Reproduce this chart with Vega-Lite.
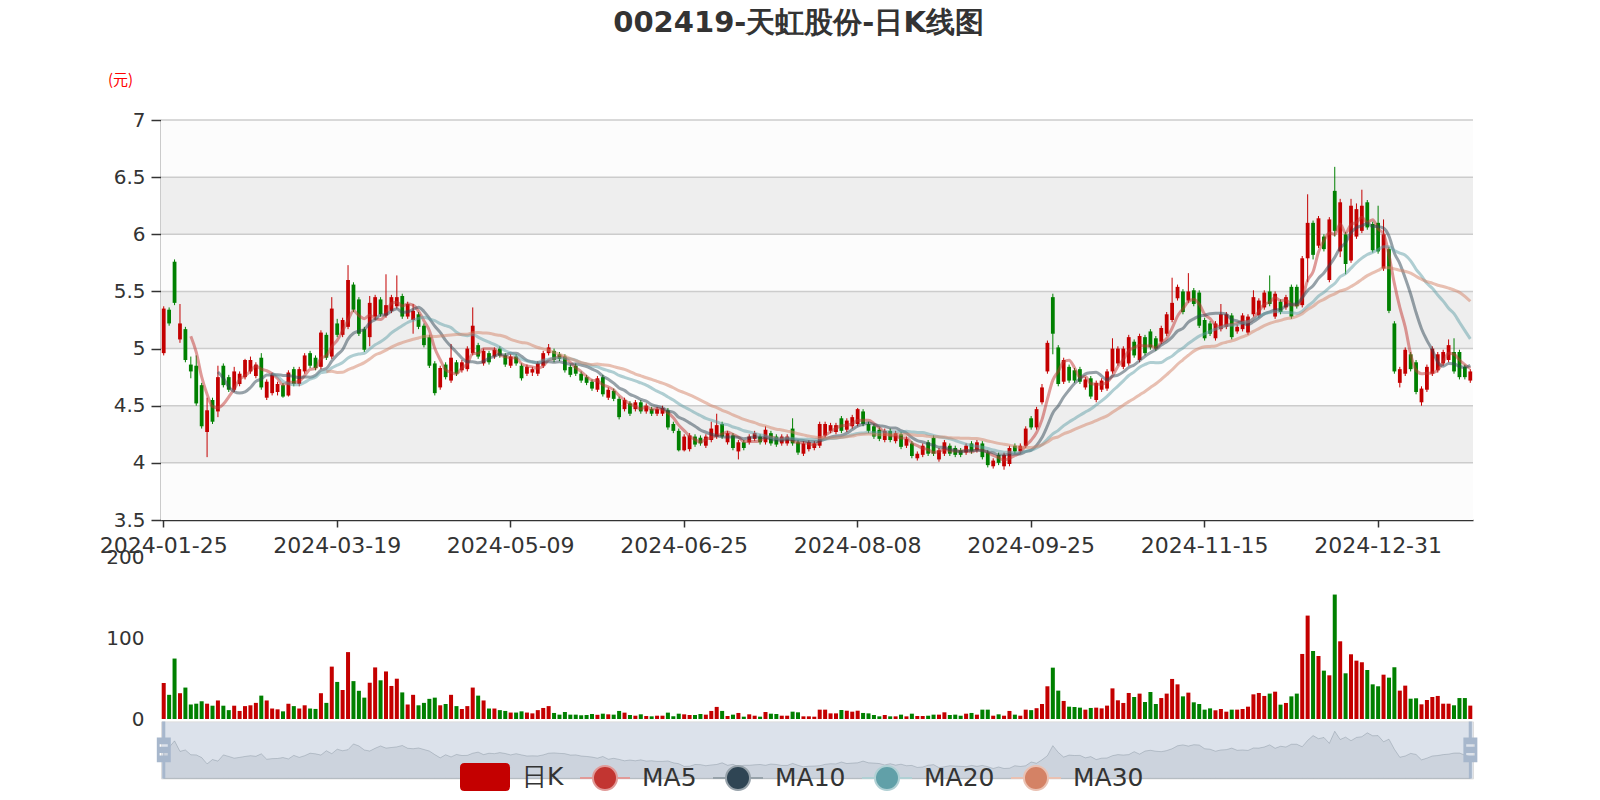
{
"$schema":"https://vega.github.io/schema/vega-lite/v6.json",
"background":"#ffffff",
"padding":{"left":99,"top":9,"right":10,"bottom":0},
"autosize":{"type":"pad"},
"title":{"text":"002419-天虹股份-日K线图","anchor":"middle","font":"DejaVu Sans","fontSize":29,"fontWeight":"bold","color":"#333333","offset":34,"dx":10},
"config":{"view":{"stroke":null},"font":"DejaVu Sans","axis":{"labelFont":"DejaVu Sans"},"legend":{"labelFont":"DejaVu Sans"}},
"datasets":{
"bands":[{"lo":3.5,"hi":4,"shade":"w"},{"lo":4,"hi":4.5,"shade":"g"},{"lo":4.5,"hi":5,"shade":"w"},{"lo":5,"hi":5.5,"shade":"g"},{"lo":5.5,"hi":6,"shade":"w"},{"lo":6,"hi":6.5,"shade":"g"},{"lo":6.5,"hi":7,"shade":"w"}],
"k":[
{"date":"2024-01-25","open":4.96,"close":5.35,"high":5.37,"low":4.94,"volume":44.7},
{"date":"2024-01-26","open":5.34,"close":5.22,"high":5.36,"low":5.20,"volume":30},
{"date":"2024-01-29","open":5.76,"close":5.40,"high":5.78,"low":5.38,"volume":75},
{"date":"2024-01-30","open":5.08,"close":5.22,"high":5.39,"low":5.05,"volume":32},
{"date":"2024-01-31","open":5.17,"close":4.90,"high":5.19,"low":4.88,"volume":39},
{"date":"2024-02-01","open":4.86,"close":4.80,"high":4.93,"low":4.74,"volume":18},
{"date":"2024-02-02","open":4.85,"close":4.52,"high":4.94,"low":4.50,"volume":19},
{"date":"2024-02-05","open":4.68,"close":4.32,"high":4.70,"low":4.30,"volume":22},
{"date":"2024-02-06","open":4.27,"close":4.46,"high":4.57,"low":4.05,"volume":19},
{"date":"2024-02-07","open":4.55,"close":4.36,"high":4.57,"low":4.34,"volume":16.5},
{"date":"2024-02-08","open":4.45,"close":4.75,"high":4.85,"low":4.40,"volume":23},
{"date":"2024-02-19","open":4.85,"close":4.68,"high":4.87,"low":4.66,"volume":16.5},
{"date":"2024-02-20","open":4.75,"close":4.64,"high":4.77,"low":4.62,"volume":11},
{"date":"2024-02-21","open":4.64,"close":4.80,"high":4.84,"low":4.62,"volume":16.5},
{"date":"2024-02-22","open":4.69,"close":4.78,"high":4.80,"low":4.67,"volume":10},
{"date":"2024-02-23","open":4.75,"close":4.90,"high":4.91,"low":4.73,"volume":16},
{"date":"2024-02-26","open":4.80,"close":4.90,"high":4.93,"low":4.78,"volume":17},
{"date":"2024-02-27","open":4.76,"close":4.86,"high":4.88,"low":4.74,"volume":20},
{"date":"2024-02-28","open":4.92,"close":4.66,"high":4.96,"low":4.64,"volume":29},
{"date":"2024-02-29","open":4.57,"close":4.71,"high":4.73,"low":4.55,"volume":23},
{"date":"2024-03-01","open":4.61,"close":4.77,"high":4.79,"low":4.59,"volume":13},
{"date":"2024-03-04","open":4.62,"close":4.69,"high":4.71,"low":4.59,"volume":12},
{"date":"2024-03-05","open":4.68,"close":4.58,"high":4.70,"low":4.57,"volume":9.5},
{"date":"2024-03-06","open":4.59,"close":4.79,"high":4.81,"low":4.58,"volume":19},
{"date":"2024-03-07","open":4.82,"close":4.69,"high":4.84,"low":4.67,"volume":16},
{"date":"2024-03-08","open":4.69,"close":4.82,"high":4.84,"low":4.67,"volume":13},
{"date":"2024-03-11","open":4.80,"close":4.94,"high":4.96,"low":4.78,"volume":17},
{"date":"2024-03-12","open":4.96,"close":4.85,"high":4.98,"low":4.83,"volume":13},
{"date":"2024-03-13","open":4.92,"close":4.83,"high":4.94,"low":4.81,"volume":12.5},
{"date":"2024-03-14","open":4.84,"close":5.14,"high":5.16,"low":4.82,"volume":32},
{"date":"2024-03-15","open":5.12,"close":4.92,"high":5.14,"low":4.90,"volume":20},
{"date":"2024-03-18","open":4.93,"close":5.35,"high":5.45,"low":4.91,"volume":65},
{"date":"2024-03-19","open":5.22,"close":5.12,"high":5.26,"low":5.10,"volume":46},
{"date":"2024-03-20","open":5.12,"close":5.25,"high":5.27,"low":5.10,"volume":36},
{"date":"2024-03-21","open":5.19,"close":5.60,"high":5.73,"low":5.17,"volume":83},
{"date":"2024-03-22","open":5.56,"close":5.34,"high":5.58,"low":5.32,"volume":47},
{"date":"2024-03-25","open":5.43,"close":5.13,"high":5.45,"low":5.11,"volume":35},
{"date":"2024-03-26","open":5.17,"close":4.99,"high":5.19,"low":4.97,"volume":26.5},
{"date":"2024-03-27","open":5.10,"close":5.40,"high":5.46,"low":5.02,"volume":45},
{"date":"2024-03-28","open":5.28,"close":5.45,"high":5.47,"low":5.25,"volume":64},
{"date":"2024-03-29","open":5.43,"close":5.30,"high":5.45,"low":5.28,"volume":48},
{"date":"2024-04-01","open":5.29,"close":5.38,"high":5.65,"low":5.27,"volume":59},
{"date":"2024-04-02","open":5.33,"close":5.45,"high":5.47,"low":5.31,"volume":41},
{"date":"2024-04-03","open":5.37,"close":5.45,"high":5.64,"low":5.35,"volume":50},
{"date":"2024-04-08","open":5.46,"close":5.28,"high":5.48,"low":5.26,"volume":33},
{"date":"2024-04-09","open":5.28,"close":5.39,"high":5.41,"low":5.26,"volume":18},
{"date":"2024-04-10","open":5.25,"close":5.33,"high":5.39,"low":5.13,"volume":30},
{"date":"2024-04-11","open":5.30,"close":5.19,"high":5.32,"low":5.17,"volume":17},
{"date":"2024-04-12","open":5.20,"close":5.03,"high":5.22,"low":5.01,"volume":20},
{"date":"2024-04-15","open":5.10,"close":4.85,"high":5.12,"low":4.83,"volume":25},
{"date":"2024-04-16","open":4.87,"close":4.61,"high":4.89,"low":4.59,"volume":26.5},
{"date":"2024-04-17","open":4.66,"close":4.83,"high":4.85,"low":4.64,"volume":17},
{"date":"2024-04-18","open":4.86,"close":4.75,"high":4.88,"low":4.73,"volume":18.6},
{"date":"2024-04-19","open":4.72,"close":4.92,"high":5.04,"low":4.70,"volume":30},
{"date":"2024-04-22","open":4.88,"close":4.78,"high":4.90,"low":4.76,"volume":16},
{"date":"2024-04-23","open":4.81,"close":4.88,"high":4.90,"low":4.79,"volume":12.4},
{"date":"2024-04-24","open":4.82,"close":5.00,"high":5.02,"low":4.80,"volume":16},
{"date":"2024-04-25","open":4.96,"close":5.20,"high":5.36,"low":4.94,"volume":39},
{"date":"2024-04-26","open":5.03,"close":4.93,"high":5.05,"low":4.91,"volume":29},
{"date":"2024-04-29","open":4.87,"close":4.98,"high":5.00,"low":4.85,"volume":23},
{"date":"2024-04-30","open":4.96,"close":4.88,"high":4.98,"low":4.86,"volume":13},
{"date":"2024-05-06","open":4.93,"close":4.99,"high":5.01,"low":4.91,"volume":13},
{"date":"2024-05-07","open":5.00,"close":4.94,"high":5.02,"low":4.92,"volume":11},
{"date":"2024-05-08","open":4.94,"close":4.86,"high":4.96,"low":4.84,"volume":10},
{"date":"2024-05-09","open":4.85,"close":4.93,"high":4.95,"low":4.83,"volume":8},
{"date":"2024-05-10","open":4.93,"close":4.87,"high":4.95,"low":4.85,"volume":8},
{"date":"2024-05-13","open":4.85,"close":4.74,"high":4.87,"low":4.72,"volume":9.5},
{"date":"2024-05-14","open":4.78,"close":4.84,"high":4.86,"low":4.76,"volume":8},
{"date":"2024-05-15","open":4.79,"close":4.82,"high":4.84,"low":4.76,"volume":7},
{"date":"2024-05-16","open":4.78,"close":4.87,"high":4.89,"low":4.76,"volume":11},
{"date":"2024-05-17","open":4.85,"close":4.96,"high":4.98,"low":4.83,"volume":13.7},
{"date":"2024-05-20","open":4.96,"close":5.01,"high":5.04,"low":4.94,"volume":16},
{"date":"2024-05-21","open":4.98,"close":4.90,"high":5.00,"low":4.88,"volume":7.5},
{"date":"2024-05-22","open":4.95,"close":4.91,"high":4.97,"low":4.89,"volume":5.4},
{"date":"2024-05-23","open":4.93,"close":4.81,"high":4.95,"low":4.79,"volume":8.7},
{"date":"2024-05-24","open":4.84,"close":4.77,"high":4.86,"low":4.75,"volume":5.4},
{"date":"2024-05-27","open":4.85,"close":4.78,"high":4.87,"low":4.76,"volume":5.4},
{"date":"2024-05-28","open":4.78,"close":4.72,"high":4.80,"low":4.70,"volume":4.6},
{"date":"2024-05-29","open":4.75,"close":4.70,"high":4.77,"low":4.68,"volume":5},
{"date":"2024-05-30","open":4.71,"close":4.65,"high":4.73,"low":4.63,"volume":6.2},
{"date":"2024-05-31","open":4.64,"close":4.74,"high":4.76,"low":4.62,"volume":5.2},
{"date":"2024-06-03","open":4.75,"close":4.60,"high":4.77,"low":4.58,"volume":6.6},
{"date":"2024-06-04","open":4.57,"close":4.64,"high":4.66,"low":4.55,"volume":5.8},
{"date":"2024-06-05","open":4.63,"close":4.56,"high":4.65,"low":4.54,"volume":5.4},
{"date":"2024-06-06","open":4.56,"close":4.40,"high":4.58,"low":4.38,"volume":10},
{"date":"2024-06-07","open":4.47,"close":4.55,"high":4.57,"low":4.45,"volume":7.9},
{"date":"2024-06-11","open":4.52,"close":4.43,"high":4.54,"low":4.41,"volume":5},
{"date":"2024-06-12","open":4.47,"close":4.53,"high":4.55,"low":4.45,"volume":4.1},
{"date":"2024-06-13","open":4.53,"close":4.45,"high":4.55,"low":4.43,"volume":5.8},
{"date":"2024-06-14","open":4.45,"close":4.50,"high":4.52,"low":4.43,"volume":3.7},
{"date":"2024-06-17","open":4.47,"close":4.43,"high":4.49,"low":4.41,"volume":3.3},
{"date":"2024-06-18","open":4.43,"close":4.47,"high":4.49,"low":4.41,"volume":4.1},
{"date":"2024-06-19","open":4.43,"close":4.48,"high":4.50,"low":4.41,"volume":4.1},
{"date":"2024-06-20","open":4.46,"close":4.31,"high":4.48,"low":4.29,"volume":7.9},
{"date":"2024-06-21","open":4.34,"close":4.28,"high":4.36,"low":4.26,"volume":3.3},
{"date":"2024-06-24","open":4.28,"close":4.11,"high":4.30,"low":4.10,"volume":6.6},
{"date":"2024-06-25","open":4.11,"close":4.23,"high":4.25,"low":4.10,"volume":5.8},
{"date":"2024-06-26","open":4.12,"close":4.24,"high":4.26,"low":4.10,"volume":5},
{"date":"2024-06-27","open":4.23,"close":4.16,"high":4.25,"low":4.14,"volume":5},
{"date":"2024-06-28","open":4.22,"close":4.17,"high":4.24,"low":4.15,"volume":6.2},
{"date":"2024-07-01","open":4.15,"close":4.23,"high":4.25,"low":4.13,"volume":5.4},
{"date":"2024-07-02","open":4.20,"close":4.30,"high":4.36,"low":4.18,"volume":10},
{"date":"2024-07-03","open":4.23,"close":4.33,"high":4.43,"low":4.21,"volume":15},
{"date":"2024-07-04","open":4.34,"close":4.23,"high":4.36,"low":4.21,"volume":10},
{"date":"2024-07-05","open":4.18,"close":4.26,"high":4.28,"low":4.16,"volume":3.7},
{"date":"2024-07-08","open":4.24,"close":4.13,"high":4.26,"low":4.11,"volume":5.4},
{"date":"2024-07-09","open":4.10,"close":4.18,"high":4.20,"low":4.03,"volume":7.5},
{"date":"2024-07-10","open":4.18,"close":4.13,"high":4.20,"low":4.11,"volume":2.9},
{"date":"2024-07-11","open":4.18,"close":4.23,"high":4.25,"low":4.16,"volume":5.8},
{"date":"2024-07-12","open":4.21,"close":4.26,"high":4.28,"low":4.19,"volume":4.1},
{"date":"2024-07-15","open":4.23,"close":4.18,"high":4.25,"low":4.16,"volume":2.9},
{"date":"2024-07-16","open":4.18,"close":4.29,"high":4.32,"low":4.16,"volume":8.7},
{"date":"2024-07-17","open":4.26,"close":4.17,"high":4.28,"low":4.15,"volume":6.6},
{"date":"2024-07-18","open":4.23,"close":4.16,"high":4.25,"low":4.14,"volume":6.2},
{"date":"2024-07-19","open":4.17,"close":4.23,"high":4.25,"low":4.15,"volume":4.1},
{"date":"2024-07-22","open":4.17,"close":4.23,"high":4.25,"low":4.15,"volume":4.1},
{"date":"2024-07-23","open":4.30,"close":4.17,"high":4.39,"low":4.15,"volume":9.1},
{"date":"2024-07-24","open":4.18,"close":4.09,"high":4.20,"low":4.07,"volume":8.3},
{"date":"2024-07-25","open":4.08,"close":4.17,"high":4.19,"low":4.06,"volume":3.3},
{"date":"2024-07-26","open":4.12,"close":4.18,"high":4.20,"low":4.10,"volume":3.3},
{"date":"2024-07-29","open":4.13,"close":4.17,"high":4.19,"low":4.11,"volume":2.9},
{"date":"2024-07-30","open":4.15,"close":4.34,"high":4.36,"low":4.13,"volume":11.6},
{"date":"2024-07-31","open":4.24,"close":4.34,"high":4.36,"low":4.22,"volume":11.6},
{"date":"2024-08-01","open":4.28,"close":4.33,"high":4.35,"low":4.26,"volume":7},
{"date":"2024-08-02","open":4.27,"close":4.33,"high":4.35,"low":4.25,"volume":7},
{"date":"2024-08-05","open":4.39,"close":4.28,"high":4.41,"low":4.26,"volume":11.2},
{"date":"2024-08-06","open":4.29,"close":4.37,"high":4.39,"low":4.27,"volume":10.3},
{"date":"2024-08-07","open":4.32,"close":4.40,"high":4.42,"low":4.30,"volume":9.1},
{"date":"2024-08-08","open":4.34,"close":4.47,"high":4.48,"low":4.32,"volume":10.3},
{"date":"2024-08-09","open":4.45,"close":4.34,"high":4.47,"low":4.32,"volume":7.5},
{"date":"2024-08-12","open":4.34,"close":4.28,"high":4.36,"low":4.26,"volume":7},
{"date":"2024-08-13","open":4.32,"close":4.23,"high":4.34,"low":4.21,"volume":5},
{"date":"2024-08-14","open":4.29,"close":4.21,"high":4.31,"low":4.19,"volume":3.3},
{"date":"2024-08-15","open":4.20,"close":4.28,"high":4.30,"low":4.18,"volume":5},
{"date":"2024-08-16","open":4.28,"close":4.20,"high":4.30,"low":4.18,"volume":3.3},
{"date":"2024-08-19","open":4.19,"close":4.26,"high":4.28,"low":4.17,"volume":3.3},
{"date":"2024-08-20","open":4.25,"close":4.14,"high":4.27,"low":4.12,"volume":5.4},
{"date":"2024-08-21","open":4.15,"close":4.21,"high":4.23,"low":4.13,"volume":3.3},
{"date":"2024-08-22","open":4.17,"close":4.06,"high":4.19,"low":4.04,"volume":6.6},
{"date":"2024-08-23","open":4.04,"close":4.08,"high":4.10,"low":4.02,"volume":3.7},
{"date":"2024-08-26","open":4.07,"close":4.15,"high":4.17,"low":4.05,"volume":3.7},
{"date":"2024-08-27","open":4.18,"close":4.08,"high":4.20,"low":4.06,"volume":4.1},
{"date":"2024-08-28","open":4.22,"close":4.08,"high":4.24,"low":4.06,"volume":5.4},
{"date":"2024-08-29","open":4.03,"close":4.11,"high":4.13,"low":4.01,"volume":5.4},
{"date":"2024-08-30","open":4.08,"close":4.18,"high":4.20,"low":4.06,"volume":8.3},
{"date":"2024-09-02","open":4.15,"close":4.08,"high":4.17,"low":4.06,"volume":5},
{"date":"2024-09-03","open":4.13,"close":4.07,"high":4.15,"low":4.05,"volume":5.4},
{"date":"2024-09-04","open":4.11,"close":4.07,"high":4.13,"low":4.05,"volume":4.1},
{"date":"2024-09-05","open":4.09,"close":4.15,"high":4.17,"low":4.07,"volume":6.6},
{"date":"2024-09-06","open":4.17,"close":4.10,"high":4.19,"low":4.08,"volume":7.5},
{"date":"2024-09-09","open":4.11,"close":4.18,"high":4.20,"low":4.09,"volume":5.4},
{"date":"2024-09-10","open":4.17,"close":4.05,"high":4.19,"low":4.03,"volume":11.6},
{"date":"2024-09-11","open":4.09,"close":3.98,"high":4.11,"low":3.96,"volume":11.6},
{"date":"2024-09-12","open":3.97,"close":4.02,"high":4.04,"low":3.95,"volume":4.1},
{"date":"2024-09-13","open":4.07,"close":4.00,"high":4.09,"low":3.98,"volume":5.8},
{"date":"2024-09-18","open":3.97,"close":4.07,"high":4.09,"low":3.94,"volume":4.1},
{"date":"2024-09-19","open":3.99,"close":4.13,"high":4.15,"low":3.97,"volume":10},
{"date":"2024-09-20","open":4.15,"close":4.10,"high":4.17,"low":4.08,"volume":5.4},
{"date":"2024-09-23","open":4.10,"close":4.15,"high":4.17,"low":4.08,"volume":4.1},
{"date":"2024-09-24","open":4.15,"close":4.30,"high":4.32,"low":4.13,"volume":11.6},
{"date":"2024-09-25","open":4.39,"close":4.31,"high":4.41,"low":4.29,"volume":11},
{"date":"2024-09-26","open":4.31,"close":4.47,"high":4.49,"low":4.29,"volume":13.4},
{"date":"2024-09-27","open":4.53,"close":4.66,"high":4.69,"low":4.51,"volume":18.6},
{"date":"2024-09-30","open":4.80,"close":5.05,"high":5.07,"low":4.78,"volume":40.6},
{"date":"2024-10-08","open":5.45,"close":5.13,"high":5.48,"low":4.95,"volume":63.7},
{"date":"2024-10-09","open":5.01,"close":4.69,"high":5.03,"low":4.67,"volume":35.2},
{"date":"2024-10-10","open":4.71,"close":4.90,"high":4.92,"low":4.69,"volume":22.4},
{"date":"2024-10-11","open":4.84,"close":4.72,"high":4.86,"low":4.70,"volume":15.3},
{"date":"2024-10-14","open":4.81,"close":4.72,"high":4.83,"low":4.70,"volume":14.9},
{"date":"2024-10-15","open":4.82,"close":4.71,"high":4.84,"low":4.69,"volume":14.1},
{"date":"2024-10-16","open":4.66,"close":4.73,"high":4.75,"low":4.64,"volume":11.6},
{"date":"2024-10-17","open":4.74,"close":4.58,"high":4.76,"low":4.56,"volume":13.7},
{"date":"2024-10-18","open":4.55,"close":4.70,"high":4.72,"low":4.53,"volume":14.1},
{"date":"2024-10-21","open":4.64,"close":4.72,"high":4.74,"low":4.62,"volume":13.2},
{"date":"2024-10-22","open":4.65,"close":4.80,"high":4.82,"low":4.63,"volume":16.6},
{"date":"2024-10-23","open":4.80,"close":5.00,"high":5.09,"low":4.78,"volume":38},
{"date":"2024-10-24","open":4.87,"close":5.00,"high":5.02,"low":4.85,"volume":23.2},
{"date":"2024-10-25","open":4.84,"close":5.00,"high":5.02,"low":4.82,"volume":19.9},
{"date":"2024-10-28","open":4.87,"close":5.10,"high":5.12,"low":4.85,"volume":32.3},
{"date":"2024-10-29","open":5.06,"close":4.94,"high":5.08,"low":4.92,"volume":27.3},
{"date":"2024-10-30","open":4.90,"close":5.11,"high":5.13,"low":4.88,"volume":31.5},
{"date":"2024-10-31","open":5.10,"close":4.96,"high":5.12,"low":4.94,"volume":21.1},
{"date":"2024-11-01","open":5.15,"close":5.01,"high":5.17,"low":4.99,"volume":33.5},
{"date":"2024-11-04","open":5.09,"close":5.00,"high":5.11,"low":4.98,"volume":18.6},
{"date":"2024-11-05","open":5.06,"close":5.18,"high":5.20,"low":5.04,"volume":26},
{"date":"2024-11-06","open":5.13,"close":5.30,"high":5.32,"low":5.11,"volume":31.5},
{"date":"2024-11-07","open":5.25,"close":5.40,"high":5.62,"low":5.23,"volume":49.7},
{"date":"2024-11-08","open":5.44,"close":5.54,"high":5.56,"low":5.42,"volume":43},
{"date":"2024-11-11","open":5.50,"close":5.32,"high":5.52,"low":5.30,"volume":28.1},
{"date":"2024-11-12","open":5.42,"close":5.50,"high":5.66,"low":5.40,"volume":32.7},
{"date":"2024-11-13","open":5.51,"close":5.39,"high":5.53,"low":5.37,"volume":20.7},
{"date":"2024-11-14","open":5.49,"close":5.20,"high":5.51,"low":5.18,"volume":18.6},
{"date":"2024-11-15","open":5.25,"close":5.09,"high":5.27,"low":5.07,"volume":11.6},
{"date":"2024-11-18","open":5.22,"close":5.13,"high":5.24,"low":5.11,"volume":13.2},
{"date":"2024-11-19","open":5.09,"close":5.22,"high":5.24,"low":5.07,"volume":10.8},
{"date":"2024-11-20","open":5.17,"close":5.30,"high":5.39,"low":5.15,"volume":12.4},
{"date":"2024-11-21","open":5.19,"close":5.30,"high":5.32,"low":5.17,"volume":9.1},
{"date":"2024-11-22","open":5.29,"close":5.10,"high":5.31,"low":5.08,"volume":11.6},
{"date":"2024-11-25","open":5.15,"close":5.19,"high":5.21,"low":5.13,"volume":11.6},
{"date":"2024-11-26","open":5.17,"close":5.29,"high":5.31,"low":5.15,"volume":12.4},
{"date":"2024-11-27","open":5.14,"close":5.28,"high":5.30,"low":5.12,"volume":15.3},
{"date":"2024-11-28","open":5.30,"close":5.45,"high":5.51,"low":5.28,"volume":30.6},
{"date":"2024-11-29","open":5.29,"close":5.42,"high":5.44,"low":5.27,"volume":32.3},
{"date":"2024-12-02","open":5.36,"close":5.49,"high":5.51,"low":5.34,"volume":28.6},
{"date":"2024-12-03","open":5.50,"close":5.39,"high":5.64,"low":5.37,"volume":31.5},
{"date":"2024-12-04","open":5.28,"close":5.48,"high":5.50,"low":5.26,"volume":33.9},
{"date":"2024-12-05","open":5.41,"close":5.32,"high":5.43,"low":5.30,"volume":17.8},
{"date":"2024-12-06","open":5.36,"close":5.45,"high":5.47,"low":5.34,"volume":19.9},
{"date":"2024-12-09","open":5.54,"close":5.28,"high":5.56,"low":5.26,"volume":28.1},
{"date":"2024-12-10","open":5.54,"close":5.37,"high":5.56,"low":5.35,"volume":31.5},
{"date":"2024-12-11","open":5.38,"close":5.79,"high":5.81,"low":5.36,"volume":80.7},
{"date":"2024-12-12","open":5.79,"close":6.10,"high":6.35,"low":5.58,"volume":128.3},
{"date":"2024-12-13","open":6.10,"close":5.82,"high":6.12,"low":5.78,"volume":84.4},
{"date":"2024-12-16","open":5.90,"close":6.14,"high":6.16,"low":5.88,"volume":78.2},
{"date":"2024-12-17","open":5.98,"close":5.87,"high":6.00,"low":5.85,"volume":60},
{"date":"2024-12-18","open":5.60,"close":6.13,"high":6.15,"low":5.58,"volume":54.2},
{"date":"2024-12-19","open":6.38,"close":6.03,"high":6.59,"low":5.98,"volume":154.4},
{"date":"2024-12-20","open":5.85,"close":6.28,"high":6.31,"low":5.80,"volume":96.4},
{"date":"2024-12-23","open":6.00,"close":5.74,"high":6.02,"low":5.65,"volume":56.7},
{"date":"2024-12-24","open":5.77,"close":6.25,"high":6.31,"low":5.75,"volume":80.3},
{"date":"2024-12-25","open":5.98,"close":6.22,"high":6.27,"low":5.96,"volume":72.4},
{"date":"2024-12-26","open":6.03,"close":6.25,"high":6.39,"low":6.01,"volume":70.4},
{"date":"2024-12-27","open":6.28,"close":6.06,"high":6.30,"low":6.04,"volume":60.8},
{"date":"2024-12-30","open":6.09,"close":5.86,"high":6.11,"low":5.84,"volume":43},
{"date":"2024-12-31","open":6.10,"close":5.85,"high":6.25,"low":5.83,"volume":40.6},
{"date":"2025-01-02","open":5.70,"close":6.00,"high":6.13,"low":5.68,"volume":55},
{"date":"2025-01-03","open":5.87,"close":5.33,"high":5.89,"low":5.31,"volume":51.3},
{"date":"2025-01-06","open":5.22,"close":4.80,"high":5.24,"low":4.78,"volume":64.2},
{"date":"2025-01-07","open":4.70,"close":4.82,"high":4.84,"low":4.66,"volume":35.2},
{"date":"2025-01-08","open":4.78,"close":4.99,"high":5.01,"low":4.76,"volume":41.4},
{"date":"2025-01-09","open":4.95,"close":4.82,"high":4.97,"low":4.80,"volume":25.2},
{"date":"2025-01-10","open":4.88,"close":4.62,"high":4.90,"low":4.60,"volume":25.7},
{"date":"2025-01-13","open":4.53,"close":4.65,"high":4.67,"low":4.50,"volume":18.2},
{"date":"2025-01-14","open":4.64,"close":4.84,"high":4.86,"low":4.62,"volume":23.6},
{"date":"2025-01-15","open":4.78,"close":5.00,"high":5.02,"low":4.76,"volume":27.3},
{"date":"2025-01-16","open":4.81,"close":4.95,"high":4.97,"low":4.79,"volume":28.6},
{"date":"2025-01-17","open":4.87,"close":4.97,"high":4.99,"low":4.85,"volume":19},
{"date":"2025-01-20","open":4.90,"close":5.03,"high":5.08,"low":4.88,"volume":19},
{"date":"2025-01-21","open":4.97,"close":4.80,"high":5.09,"low":4.78,"volume":17},
{"date":"2025-01-22","open":4.97,"close":4.75,"high":4.99,"low":4.73,"volume":26},
{"date":"2025-01-23","open":4.84,"close":4.75,"high":4.86,"low":4.73,"volume":26},
{"date":"2025-01-24","open":4.72,"close":4.80,"high":4.82,"low":4.70,"volume":16.6}
]},
"spacing":37.8,
"bounds":"flush",
"vconcat":[
{
"width":1312,"height":400,
"layer":[
{"data":{"name":"bands"},"mark":{"type":"rect"},
 "encoding":{
  "y":{"field":"lo","type":"quantitative","title":"(元)","scale":{"domain":[3.5,7],"nice":false,"zero":false},
   "axis":{"values":[3.5,4,4.5,5,5.5,6,6.5,7],"format":"~g","grid":false,"domainColor":"#333333","domainWidth":1.5,"tickColor":"#333333","tickWidth":1.5,"tickSize":10,"labelFontSize":20,"labelColor":"#333333","labelPadding":6,"title":"(元)","titleAngle":0,"titleX":-41,"titleY":-41,"titleAlign":"center","titleBaseline":"middle","titleColor":"#ff0000","titleFont":"Noto Sans CJK SC","titleFontSize":15,"titleFontWeight":"normal"}},
  "y2":{"field":"hi"},
  "color":{"condition":{"test":"datum.shade === 'g'","value":"#eeeeee"},"value":"#fcfcfc"}}},
{"data":{"name":"bands"},"mark":{"type":"rule","color":"#cccccc","strokeWidth":1.5},
 "encoding":{"y":{"field":"hi","type":"quantitative","title":"(元)","scale":{"domain":[3.5,7],"nice":false,"zero":false}}}},
{"data":{"name":"k"},"mark":{"type":"rule","strokeWidth":1},
 "encoding":{
  "x":{"field":"date","type":"ordinal","scale":{"paddingInner":0,"paddingOuter":0},
   "axis":{"values":["2024-01-25","2024-03-19","2024-05-09","2024-06-25","2024-08-08","2024-09-25","2024-11-15","2024-12-31"],"labelAngle":0,"title":null,"domainColor":"#333333","domainWidth":1.5,"tickColor":"#333333","tickWidth":1.5,"tickSize":7,"labelFontSize":22,"labelColor":"#333333","labelPadding":8,"grid":false,"labelOverlap":false}},
  "y":{"field":"low","type":"quantitative","title":"(元)","scale":{"domain":[3.5,7],"nice":false,"zero":false}},
  "y2":{"field":"high"},
  "color":{"condition":{"test":"datum.close >= datum.open","value":"#c40000"},"value":"#008000"}}},
{"data":{"name":"k"},"mark":{"type":"bar","width":{"band":0.7}},
 "encoding":{
  "x":{"field":"date","type":"ordinal","scale":{"paddingInner":0,"paddingOuter":0}},
  "y":{"field":"open","type":"quantitative","title":"(元)","scale":{"domain":[3.5,7],"nice":false,"zero":false}},
  "y2":{"field":"close"},
  "color":{"condition":{"test":"datum.close >= datum.open","value":"#c40000"},"value":"#008000"}}},
{"data":{"name":"k"},
 "transform":[
  {"window":[{"op":"mean","field":"close","as":"MA5"}],"frame":[-4,0],"sort":[{"field":"date"}]},
  {"window":[{"op":"mean","field":"close","as":"MA10"}],"frame":[-9,0],"sort":[{"field":"date"}]},
  {"window":[{"op":"mean","field":"close","as":"MA20"}],"frame":[-19,0],"sort":[{"field":"date"}]},
  {"window":[{"op":"mean","field":"close","as":"MA30"}],"frame":[-29,0],"sort":[{"field":"date"}]},
  {"window":[{"op":"row_number","as":"rn"}],"sort":[{"field":"date"}]},
  {"fold":["MA5","MA10","MA20","MA30"],"as":["line_series","ma"]},
  {"filter":"(datum.line_series === 'MA5' && datum.rn > 5) || (datum.line_series === 'MA10' && datum.rn > 10) || (datum.line_series === 'MA20' && datum.rn > 20) || (datum.line_series === 'MA30' && datum.rn > 30)"}
 ],
 "mark":{"type":"line","interpolate":"monotone","strokeWidth":3,"opacity":0.5},
 "encoding":{
  "x":{"field":"date","type":"ordinal","scale":{"paddingInner":0,"paddingOuter":0}},
  "y":{"field":"ma","type":"quantitative","title":"(元)","scale":{"domain":[3.5,7],"nice":false,"zero":false}},
  "color":{"field":"line_series","type":"nominal",
   "scale":{"domain":["MA5","MA10","MA20","MA30"],"range":["#c23531","#2f4554","#61a0a8","#d48265"]},
   "legend":null}}},
{"data":{"name":"k"},
 "transform":[{"filter":"false"}],
 "mark":{"type":"point","filled":true,"opacity":1,"fillOpacity":1,"strokeOpacity":1},
 "encoding":{
  "x":{"field":"date","type":"ordinal","scale":{"paddingInner":0,"paddingOuter":0}},
  "y":{"field":"close","type":"quantitative","title":"(元)","scale":{"domain":[3.5,7],"nice":false,"zero":false}},
  "fill":{"field":"series","type":"nominal",
   "scale":{"domain":["日K","MA5","MA10","MA20","MA30"],"range":["#c40000","#c23531","#2f4554","#61a0a8","#d48265"]},
   "legend":{"orient":"none","legendX":298,"legendY":631,"direction":"horizontal","title":null,"symbolSize":2500,"symbolOpacity":1,"symbolStrokeWidth":2,"labelFontSize":25,"labelColor":"#333333","labelOffset":11,"columnPadding":12,"padding":0}},
  "shape":{"field":"series","type":"nominal",
   "scale":{"domain":["日K","MA5","MA10","MA20","MA30"],"range":[
    "M-0.82,-0.56 L0.82,-0.56 Q1,-0.56 1,-0.38 L1,0.38 Q1,0.56 0.82,0.56 L-0.82,0.56 Q-1,0.56 -1,0.38 L-1,-0.38 Q-1,-0.56 -0.82,-0.56 Z",
    "M-1,0 L-0.48,0 M0.48,0 L1,0 M-0.48,0 A0.48,0.48 0 1,1 0.48,0 A0.48,0.48 0 1,1 -0.48,0 Z",
    "M-1,0 L-0.48,0 M0.48,0 L1,0 M-0.48,0 A0.48,0.48 0 1,1 0.48,0 A0.48,0.48 0 1,1 -0.48,0 Z",
    "M-1,0 L-0.48,0 M0.48,0 L1,0 M-0.48,0 A0.48,0.48 0 1,1 0.48,0 A0.48,0.48 0 1,1 -0.48,0 Z",
    "M-1,0 L-0.48,0 M0.48,0 L1,0 M-0.48,0 A0.48,0.48 0 1,1 0.48,0 A0.48,0.48 0 1,1 -0.48,0 Z"]}},
  "stroke":{"field":"series","type":"nominal",
   "scale":{"domain":["日K","MA5","MA10","MA20","MA30"],"range":["rgba(255,255,255,0)","#e19a98","#97a2aa","#b0d0d4","#eac1b2"]}}}}
]},
{"spacing":1.6,"bounds":"flush","vconcat":[
{"width":1312,"height":161.2,"data":{"name":"k"},
 "mark":{"type":"bar","width":{"band":0.74}},
 "encoding":{
  "x":{"field":"date","type":"ordinal","axis":null,"scale":{"paddingInner":0,"paddingOuter":0}},
  "y":{"field":"volume","type":"quantitative","scale":{"domain":[0,200],"nice":false},
   "axis":{"values":[0,100,200],"title":null,"domain":false,"ticks":false,"grid":false,"labelFontSize":20,"labelColor":"#333333","labelPadding":17}},
  "color":{"condition":{"test":"datum.close >= datum.open","value":"#c40000"},"value":"#008000"}}},
{"width":1312,"height":57,
 "view":{"fill":"rgba(167,183,204,0.4)","stroke":"#dddddd"},
 "layer":[
 {"data":{"name":"k"},"mark":{"type":"area","fill":"rgba(47,69,84,0.09)","stroke":"rgba(47,69,84,0.3)","strokeWidth":0.7},
  "encoding":{
   "x":{"field":"date","type":"ordinal","axis":null,"scale":{"paddingInner":0,"paddingOuter":0}},
   "y":{"field":"open","type":"quantitative","axis":null,"scale":{"domain":[3.33,7.02],"nice":false,"zero":false}},
   "y2":{"datum":3.33}}},
 {"data":{"values":[{}]},"mark":{"type":"point","shape":"M0.055,-0.434 L0.055,-1 L-0.055,-1 L-0.055,-0.434 L-0.242,-0.434 L-0.242,0.434 L-0.05,0.434 L-0.05,1 L0.055,1 L0.055,0.434 L0.248,0.434 L0.248,-0.434 Z M0.143,0.195 L-0.143,0.195 L-0.143,0.113 L0.143,0.113 Z M0.143,-0.114 L-0.143,-0.114 L-0.143,-0.196 L0.143,-0.196 Z","size":3249,"filled":true,"fill":"#a7b7cc","opacity":1,"strokeWidth":0},
  "encoding":{"x":{"datum":"2024-01-25","type":"ordinal","bandPosition":0},"y":{"datum":5.175,"type":"quantitative"}}},
 {"data":{"values":[{}]},"mark":{"type":"point","shape":"M0.055,-0.434 L0.055,-1 L-0.055,-1 L-0.055,-0.434 L-0.242,-0.434 L-0.242,0.434 L-0.05,0.434 L-0.05,1 L0.055,1 L0.055,0.434 L0.248,0.434 L0.248,-0.434 Z M0.143,0.195 L-0.143,0.195 L-0.143,0.113 L0.143,0.113 Z M0.143,-0.114 L-0.143,-0.114 L-0.143,-0.196 L0.143,-0.196 Z","size":3249,"filled":true,"fill":"#a7b7cc","opacity":1,"strokeWidth":0},
  "encoding":{"x":{"datum":"2025-01-24","type":"ordinal","bandPosition":1},"y":{"datum":5.175,"type":"quantitative"}}}
 ]}
]}
]
}
